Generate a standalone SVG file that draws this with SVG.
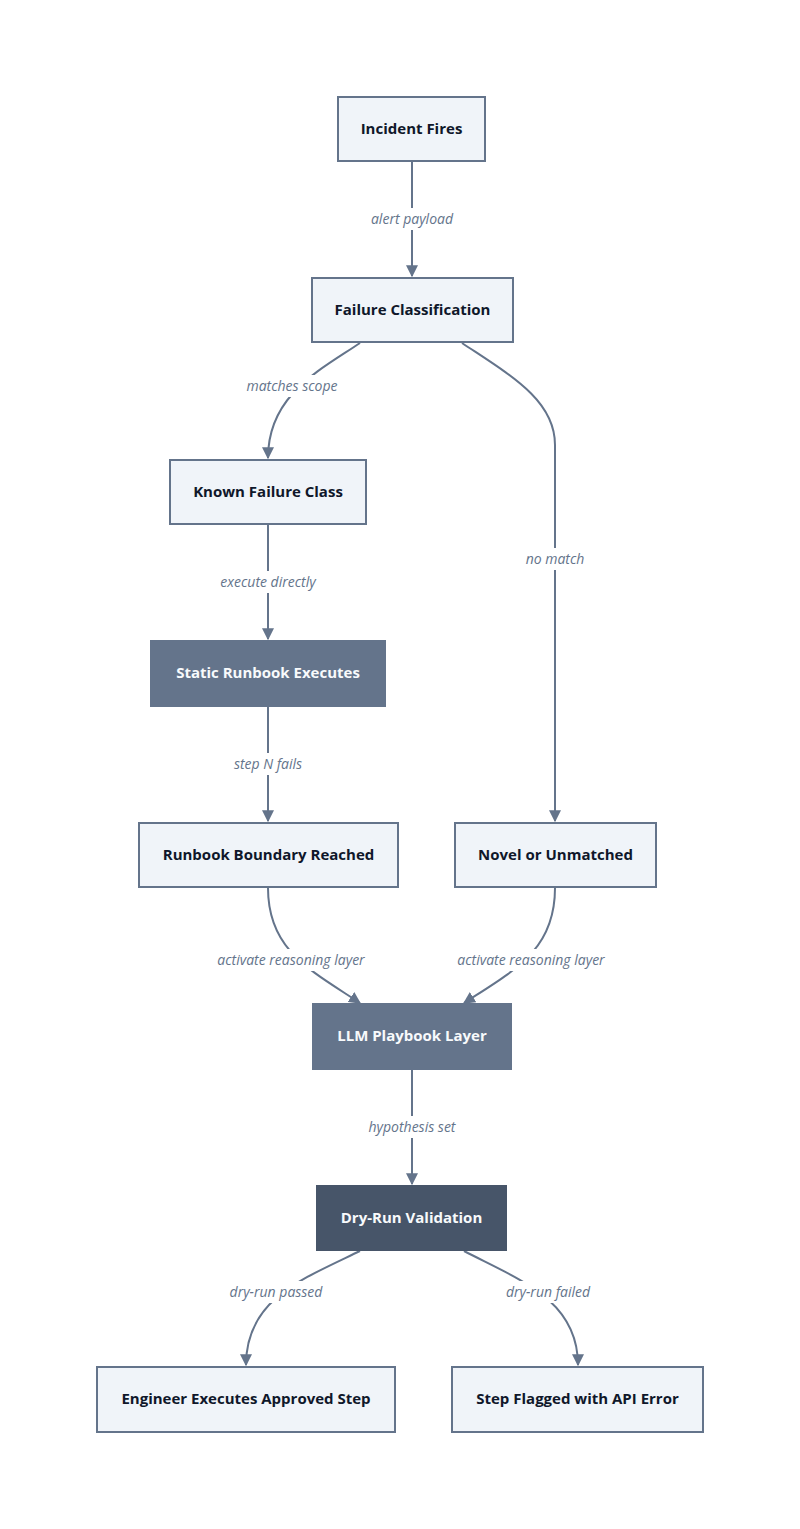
<svg xmlns="http://www.w3.org/2000/svg" width="800" height="1529" viewBox="0 0 800 1529">
<style>
.n rect{fill:#f0f4f9;stroke:#64748b;stroke-width:2}
.n text{font-family:"Open Sans","Liberation Sans",sans-serif;font-size:15px;font-weight:bold;fill:#0f172a;text-anchor:middle}
.m rect{fill:#64748b;stroke:#64748b}
.d rect{fill:#475569;stroke:#475569}
.m text,.d text{fill:#f8fafc}
.e path{fill:none;stroke:#64748b;stroke-width:2;marker-end:url(#a)}
.e text{font-family:"Open Sans","Liberation Sans",sans-serif;font-size:14px;font-style:italic;fill:#64748b;text-anchor:middle}
</style>
<defs><marker id="a" viewBox="0 0 10 10" refX="9" refY="5" markerWidth="6" markerHeight="6" orient="auto"><path d="M0,0L10,5L0,10z" fill="#64748b"/></marker></defs>
<rect width="800" height="1529" fill="#fff"/>
<g class="e">
<path d="M412,162V276"/>
<path d="M360,343C320,370 268,395 268,458"/>
<path d="M462,343C510,375 555,400 555,445V821"/>
<path d="M268,525V639"/>
<path d="M268,707V821"/>
<path d="M268,888C268,950 310,970 360,1003"/>
<path d="M555,888C555,950 515,970 464,1003"/>
<path d="M412,1070V1184"/>
<path d="M360,1251C300,1280 246,1300 246,1365"/>
<path d="M464,1251C520,1280 578,1300 578,1365"/>
<rect x="360" y="208" width="104" height="22" fill="#fff"/><text x="412" y="224">alert payload</text>
<rect x="238" y="375" width="108" height="22" fill="#fff"/><text x="292" y="391">matches scope</text>
<rect x="520" y="548" width="70" height="22" fill="#fff"/><text x="555" y="564">no match</text>
<rect x="212" y="571" width="112" height="22" fill="#fff"/><text x="268" y="587">execute directly</text>
<rect x="226" y="753" width="84" height="22" fill="#fff"/><text x="268" y="769">step N fails</text>
<rect x="208" y="949" width="168" height="22" fill="#fff"/><text x="291" y="965">activate reasoning layer</text>
<rect x="448" y="949" width="168" height="22" fill="#fff"/><text x="531" y="965">activate reasoning layer</text>
<rect x="360" y="1116" width="104" height="22" fill="#fff"/><text x="412" y="1132">hypothesis set</text>
<rect x="222" y="1281" width="110" height="22" fill="#fff"/><text x="276" y="1297">dry-run passed</text>
<rect x="497" y="1281" width="104" height="22" fill="#fff"/><text x="548" y="1297">dry-run failed</text>
</g>
<g id="incident" class="n"><rect x="338" y="97" width="147" height="64"/><text x="411.5" y="134">Incident Fires</text></g>
<g id="classify" class="n"><rect x="312" y="278" width="201" height="64"/><text x="412.5" y="315">Failure Classification</text></g>
<g id="known" class="n"><rect x="170" y="460" width="196" height="64"/><text x="268" y="497">Known Failure Class</text></g>
<g id="static" class="n m"><rect x="151" y="641" width="234" height="65"/><text x="268" y="678">Static Runbook Executes</text></g>
<g id="boundary" class="n"><rect x="139" y="823" width="259" height="64"/><text x="268.5" y="860">Runbook Boundary Reached</text></g>
<g id="novel" class="n"><rect x="455" y="823" width="201" height="64"/><text x="555.5" y="860">Novel or Unmatched</text></g>
<g id="llm" class="n m"><rect x="313" y="1004" width="198" height="65"/><text x="412" y="1041">LLM Playbook Layer</text></g>
<g id="dryrun" class="n d"><rect x="317" y="1186" width="189" height="64"/><text x="411.5" y="1223">Dry-Run Validation</text></g>
<g id="engineer" class="n"><rect x="97" y="1367" width="298" height="65"/><text x="246" y="1404">Engineer Executes Approved Step</text></g>
<g id="flagged" class="n"><rect x="452" y="1367" width="251" height="65"/><text x="577.5" y="1404">Step Flagged with API Error</text></g>
</svg>
